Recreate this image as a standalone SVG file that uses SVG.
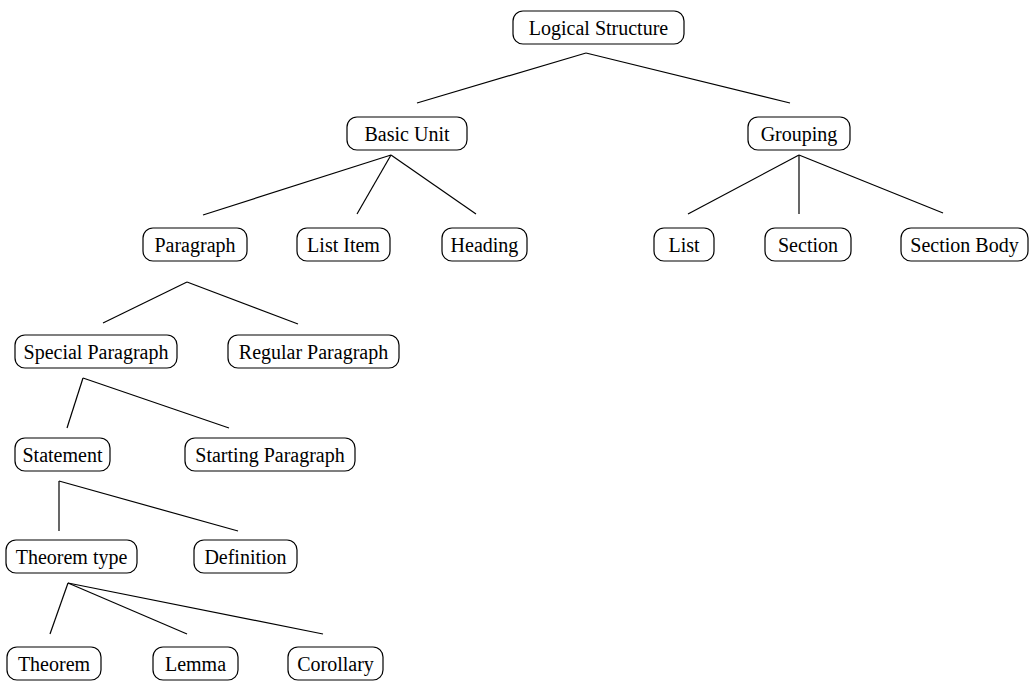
<svg xmlns="http://www.w3.org/2000/svg" width="1029" height="681" viewBox="0 0 1029 681">
<style>
.n rect{fill:#fff;stroke:#000;stroke-width:1.2}
.n text{font-family:"Liberation Serif","Times New Roman",serif;font-size:20px;fill:#000;text-anchor:middle}
#edges line{stroke:#000;stroke-width:1.2}
</style>
<rect width="1029" height="681" fill="#fff"/>
<g id="edges">
<line x1="586" y1="53" x2="417" y2="103"/>
<line x1="586" y1="53" x2="790" y2="103"/>
<line x1="391" y1="155" x2="203" y2="215"/>
<line x1="391" y1="155" x2="357" y2="214"/>
<line x1="391" y1="155" x2="476" y2="214"/>
<line x1="799" y1="155" x2="688" y2="214"/>
<line x1="799" y1="155" x2="799" y2="214"/>
<line x1="799" y1="155" x2="943" y2="213"/>
<line x1="187" y1="282" x2="103" y2="323"/>
<line x1="187" y1="282" x2="298" y2="324"/>
<line x1="83" y1="378" x2="67" y2="428"/>
<line x1="83" y1="378" x2="229" y2="428"/>
<line x1="59" y1="481" x2="59" y2="531"/>
<line x1="59" y1="481" x2="238" y2="531"/>
<line x1="68" y1="583" x2="50" y2="634"/>
<line x1="68" y1="583" x2="187" y2="634"/>
<line x1="68" y1="583" x2="323" y2="634"/>
</g>
<g id="logical-structure" class="n"><rect x="513" y="11" width="171" height="33" rx="10"/><text x="598.5" y="35">Logical Structure</text></g>
<g id="basic-unit" class="n"><rect x="347" y="117" width="120" height="33" rx="10"/><text x="407" y="141">Basic Unit</text></g>
<g id="grouping" class="n"><rect x="748" y="117" width="102" height="33" rx="10"/><text x="799" y="141">Grouping</text></g>
<g id="paragraph" class="n"><rect x="143" y="228" width="104" height="33" rx="10"/><text x="195" y="252">Paragraph</text></g>
<g id="list-item" class="n"><rect x="297" y="228" width="93" height="33" rx="10"/><text x="343.5" y="252">List Item</text></g>
<g id="heading" class="n"><rect x="442" y="228" width="85" height="33" rx="10"/><text x="484.5" y="252">Heading</text></g>
<g id="list" class="n"><rect x="654" y="228" width="60" height="33" rx="10"/><text x="684" y="252">List</text></g>
<g id="section" class="n"><rect x="765" y="228" width="86" height="33" rx="10"/><text x="808" y="252">Section</text></g>
<g id="section-body" class="n"><rect x="901" y="228" width="127" height="33" rx="10"/><text x="964.5" y="252">Section Body</text></g>
<g id="special-paragraph" class="n"><rect x="15" y="335" width="162" height="33" rx="10"/><text x="96" y="359">Special Paragraph</text></g>
<g id="regular-paragraph" class="n"><rect x="228" y="335" width="171" height="33" rx="10"/><text x="313.5" y="359">Regular Paragraph</text></g>
<g id="statement" class="n"><rect x="15" y="438" width="95" height="33" rx="10"/><text x="62.5" y="462">Statement</text></g>
<g id="starting-paragraph" class="n"><rect x="185" y="438" width="170" height="33" rx="10"/><text x="270" y="462">Starting Paragraph</text></g>
<g id="theorem-type" class="n"><rect x="6" y="540" width="131" height="33" rx="10"/><text x="71.5" y="564">Theorem type</text></g>
<g id="definition" class="n"><rect x="194" y="540" width="103" height="33" rx="10"/><text x="245.5" y="564">Definition</text></g>
<g id="theorem" class="n"><rect x="7" y="647" width="94" height="33" rx="10"/><text x="54" y="671">Theorem</text></g>
<g id="lemma" class="n"><rect x="153" y="647" width="85" height="33" rx="10"/><text x="195.5" y="671">Lemma</text></g>
<g id="corollary" class="n"><rect x="288" y="647" width="95" height="33" rx="10"/><text x="335.5" y="671">Corollary</text></g>
</svg>
